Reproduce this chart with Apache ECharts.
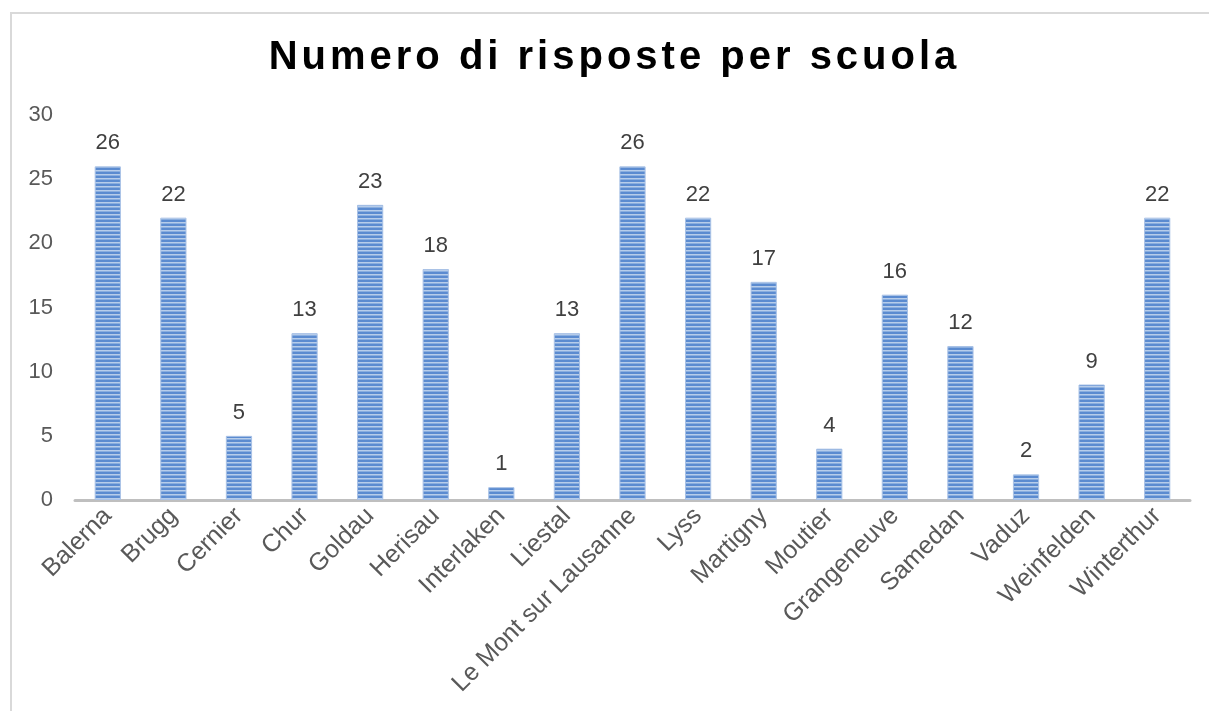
<!DOCTYPE html>
<html>
<head>
<meta charset="utf-8">
<script src="https://cdn.jsdelivr.net/npm/echarts@6/dist/echarts.min.js"></script>
<style>
  html, body { margin: 0; padding: 0; background: #fff; }
  #frame {
    position: absolute; left: 10px; top: 12px; width: 1220px; height: 720px;
    border: 2px solid #d9d9d9; box-sizing: border-box;
  }
  #main { position: absolute; left: 0; top: 0; width: 1209px; height: 711px; }
  #title {
    position: absolute; left: 0; width: 1229px; top: 33px; text-align: center;
    font-family: 'Liberation Sans', Arial, sans-serif; font-weight: bold;
    font-size: 40px; letter-spacing: 4px; color: #000; z-index: 2;
  }
</style>
</head>
<body>
<div id="frame"></div>
<div id="main"></div>
<div id="title">Numero di risposte per scuola</div>
<script>
// dati del grafico
var schools = ['Balerna', 'Brugg', 'Cernier', 'Chur', 'Goldau', 'Herisau', 'Interlaken', 'Liestal',
  'Le Mont sur Lausanne', 'Lyss', 'Martigny', 'Moutier', 'Grangeneuve', 'Samedan', 'Vaduz', 'Weinfelden', 'Winterthur'];
var responses = [26, 22, 5, 13, 23, 18, 1, 13, 26, 22, 17, 4, 16, 12, 2, 9, 22];
var yTicks = [0, 5, 10, 15, 20, 25, 30];

// pattern a righe orizzontali
function stripes() {
  var c = document.createElement('canvas');
  c.width = 4; c.height = 4;
  var ctx = c.getContext('2d');
  ctx.fillStyle = '#5b8bd0';
  ctx.fillRect(0, 0, 4, 4);
  ctx.fillStyle = '#b7cdea';
  ctx.fillRect(0, 2, 4, 1);
  ctx.fillStyle = '#8aaedf';
  ctx.fillRect(0, 3, 4, 1);
  return c;
}

var chart = echarts.init(document.getElementById('main'));
chart.setOption({
  animation: false,
  grid: { left: 75, right: 19, top: 115, bottom: 211 },
  xAxis: {
    type: 'category',
    data: schools,
    axisLine: { lineStyle: { color: '#bfbfbf', width: 3 } },
    axisTick: { show: false },
    axisLabel: {
      interval: 0,
      rotate: 45,
      margin: 12,
      fontFamily: 'Liberation Sans, Arial',
      fontSize: 25,
      color: '#595959'
    }
  },
  yAxis: {
    type: 'value',
    min: yTicks[0],
    max: yTicks[yTicks.length - 1],
    interval: 5,
    splitLine: { show: false },
    axisLine: { show: false },
    axisTick: { show: false },
    axisLabel: {
      margin: 22,
      fontFamily: 'Liberation Sans, Arial',
      fontSize: 22,
      color: '#595959'
    }
  },
  series: [{
    type: 'bar',
    data: responses,
    barWidth: '40%',
    itemStyle: {
      color: { image: stripes(), repeat: 'repeat' },
      borderColor: '#a9c2e6',
      borderWidth: 1
    },
    label: {
      show: true,
      position: 'top',
      distance: 12,
      fontFamily: 'Liberation Sans, Arial',
      fontSize: 22,
      color: '#404040'
    }
  }]
});
</script>
</body>
</html>
